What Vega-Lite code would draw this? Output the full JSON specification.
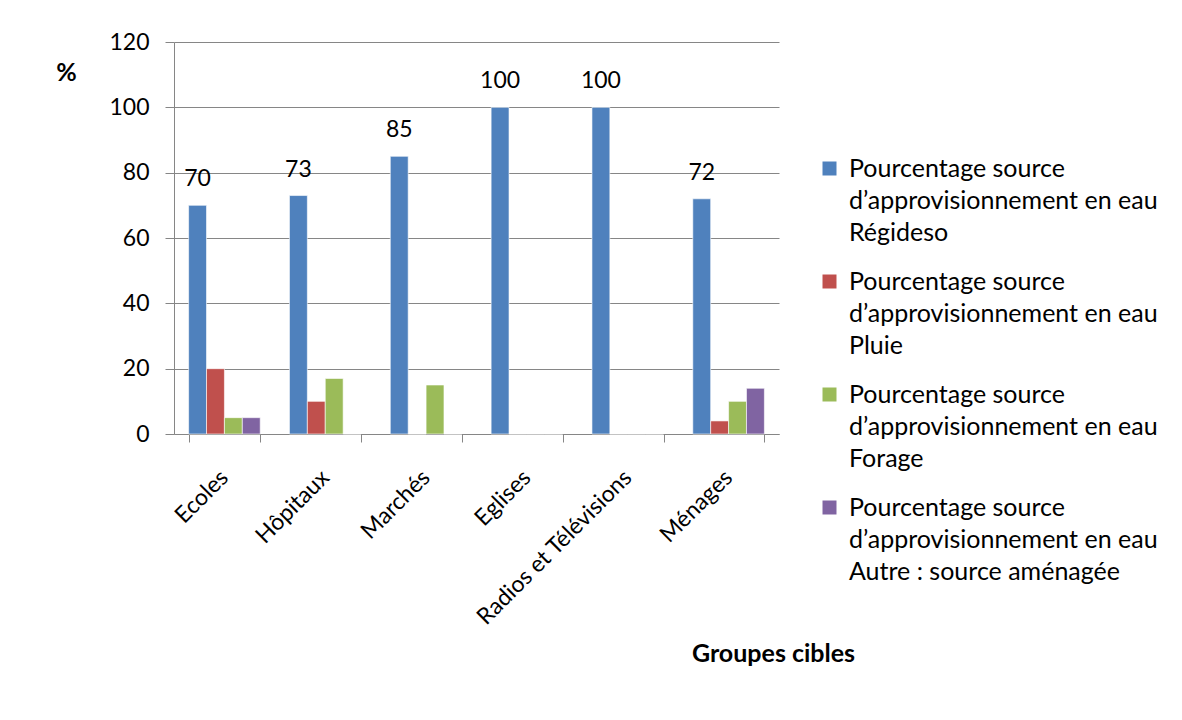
{
  "$schema": "https://vega.github.io/schema/vega-lite/v6.json",
  "autosize": {"type": "none"},
  "padding": {"left": 174, "top": 42, "right": 403, "bottom": 286},
  "width": 605,
  "height": 392,
  "background": "white",
  "config": {
    "font": "Lato",
    "view": {"stroke": null},
    "style": {"guide-label": {"lineHeight": 32}},
    "axis": {
      "labelFont": "Lato",
      "labelFontSize": 23,
      "labelColor": "#000000",
      "titleFont": "Lato",
      "titleColor": "#000000",
      "domainColor": "#868686",
      "tickColor": "#868686",
      "gridColor": "#868686"
    }
  },
  "data": {
    "values": [
      {"groupe": "Ecoles", "source": "Régideso", "pct": 70},
      {"groupe": "Ecoles", "source": "Pluie", "pct": 20},
      {"groupe": "Ecoles", "source": "Forage", "pct": 5},
      {"groupe": "Ecoles", "source": "Autre : source aménagée", "pct": 5},
      {"groupe": "Hôpitaux", "source": "Régideso", "pct": 73},
      {"groupe": "Hôpitaux", "source": "Pluie", "pct": 10},
      {"groupe": "Hôpitaux", "source": "Forage", "pct": 17},
      {"groupe": "Hôpitaux", "source": "Autre : source aménagée", "pct": 0},
      {"groupe": "Marchés", "source": "Régideso", "pct": 85},
      {"groupe": "Marchés", "source": "Pluie", "pct": 0},
      {"groupe": "Marchés", "source": "Forage", "pct": 15},
      {"groupe": "Marchés", "source": "Autre : source aménagée", "pct": 0},
      {"groupe": "Eglises", "source": "Régideso", "pct": 100},
      {"groupe": "Eglises", "source": "Pluie", "pct": 0},
      {"groupe": "Eglises", "source": "Forage", "pct": 0},
      {"groupe": "Eglises", "source": "Autre : source aménagée", "pct": 0},
      {"groupe": "Radios et Télévisions", "source": "Régideso", "pct": 100},
      {"groupe": "Radios et Télévisions", "source": "Pluie", "pct": 0},
      {"groupe": "Radios et Télévisions", "source": "Forage", "pct": 0},
      {"groupe": "Radios et Télévisions", "source": "Autre : source aménagée", "pct": 0},
      {"groupe": "Ménages", "source": "Régideso", "pct": 72},
      {"groupe": "Ménages", "source": "Pluie", "pct": 4},
      {"groupe": "Ménages", "source": "Forage", "pct": 10},
      {"groupe": "Ménages", "source": "Autre : source aménagée", "pct": 14}
    ]
  },
  "encoding": {
    "x": {
      "field": "groupe",
      "type": "nominal",
      "sort": null,
      "scale": {"paddingInner": 0.29, "paddingOuter": 0.145},
      "axis": {
        "title": "Groupes cibles",
        "titleFontSize": 25,
        "titleFontWeight": "bold",
        "titleX": 599,
        "titleY": 219,
        "titleAlign": "center",
        "titleBaseline": "middle",
        "labelAngle": -45,
        "labelPadding": 24,
        "labelOffset": -8,
        "labelLimit": 300,
        "tickBand": "extent",
        "tickSize": 8,
        "grid": false
      }
    },
    "xOffset": {
      "field": "source",
      "type": "nominal",
      "sort": null,
      "scale": {"domain": ["Régideso", "Pluie", "Forage", "Autre : source aménagée"], "paddingInner": 0}
    },
    "y": {
      "field": "pct",
      "type": "quantitative",
      "scale": {"domain": [0, 120]},
      "axis": {
        "values": [0, 20, 40, 60, 80, 100, 120],
        "title": "%",
        "titleAngle": 0,
        "titleFontSize": 25,
        "titleFontWeight": "bold",
        "titleX": -108,
        "titleY": 30,
        "titleAlign": "center",
        "titleBaseline": "middle",
        "tickSize": 9,
        "labelPadding": 16,
        "grid": true
      }
    }
  },
  "layer": [
    {
      "mark": {"type": "bar", "stroke": "white", "strokeWidth": 0.6},
      "encoding": {
        "color": {
          "field": "source",
          "type": "nominal",
          "sort": null,
          "scale": {
            "domain": ["Régideso", "Pluie", "Forage", "Autre : source aménagée"],
            "range": ["#4F81BD", "#C0504D", "#9BBB59", "#8064A2"]
          },
          "legend": {
            "orient": "none",
            "legendX": 643,
            "legendY": 114,
            "title": null,
            "symbolType": "square",
            "symbolSize": 196,
            "symbolStrokeWidth": 0,
            "labelFont": "Lato",
            "labelFontSize": 25,
            "labelColor": "#000000",
            "labelLimit": 400,
            "labelOffset": 7,
            "labelBaseline": "middle",
            "rowPadding": 23,
            "labelExpr": "['Pourcentage source', 'd’approvisionnement en eau', datum.label]"
          }
        }
      }
    },
    {
      "transform": [{"filter": "datum.source === 'Régideso'"}],
      "mark": {"type": "text", "dy": -14, "fontSize": 23, "font": "Lato", "color": "#000000", "baseline": "bottom"},
      "encoding": {
        "text": {"field": "pct", "type": "quantitative"}
      }
    }
  ]
}
